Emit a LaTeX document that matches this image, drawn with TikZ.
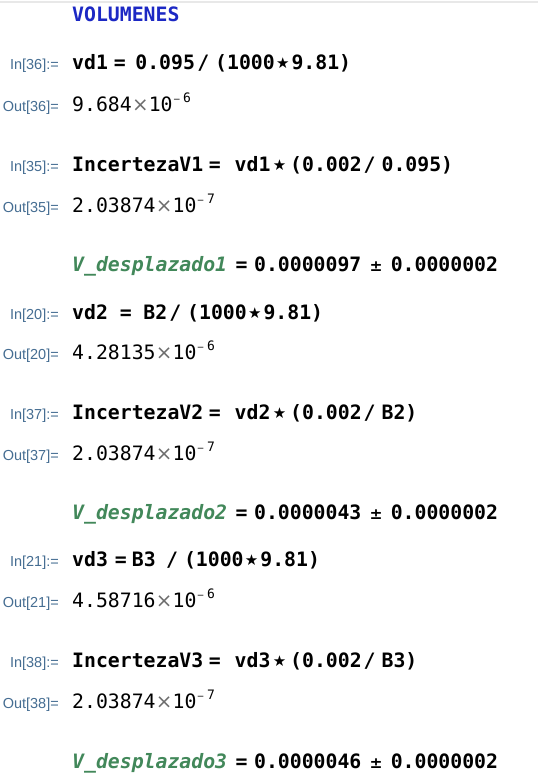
\documentclass[tikz,border=0pt]{standalone}
\usepackage{fontspec}
\setmonofont{DejaVu Sans Mono}
\setsansfont{Liberation Sans}
\newfontfamily\symf{DejaVu Sans}
\usetikzlibrary{positioning}

\definecolor{lblblue}{RGB}{69,109,146}
\definecolor{titleblue}{RGB}{28,40,196}
\definecolor{vargreen}{RGB}{66,136,90}
\definecolor{timesgray}{RGB}{110,110,110}
\definecolor{rulegray}{RGB}{232,232,232}

\newcommand\opeq[2]{\kern#1pt=\kern#2pt}
\newcommand\opslash[1]{\kern#1pt/\kern6pt}
\newcommand\opstar[1][2]{\kern#1pt\makebox[12pt]{\raisebox{1pt}{\symf\fontsize{15}{15}\selectfont ★}}\kern2.7pt}
\newcommand\optimes{\makebox[17pt]{\symf\color{timesgray}×}}
\newcommand\opexp[1]{\raisebox{8.7pt}{\fontsize{13}{13}\selectfont\kern0.5pt{\symf\fontsize{9}{9}\selectfont −}\kern2.5pt#1}}
\newcommand\oppm{\makebox[29.4pt]{\symf\bfseries\fontsize{15.5}{15}\selectfont ±}}
\newcommand\vname[1]{{\itshape\color{vargreen}#1}}

\begin{document}
\begin{tikzpicture}[x=1pt,y=-1pt]
      \useasboundingbox (0,0) rectangle (538,781);
      \fill[white] (0,0) rectangle (538,781);
      \draw[rulegray, line width=2pt] (0,2) -- (538,2);
      \begin{scope}[every node/.style={anchor=base east,inner sep=0pt,text=lblblue,
          font=\sffamily\fontsize{14.5}{16}\selectfont}]
        \node (in36) at (59,69.5) {In[36]:=};
        \node (out36) at (59,111) {Out[36]=};
        \node (in35) at (59,171) {In[35]:=};
        \node (out35) at (59,212) {Out[35]=};
        \node (in20) at (59,319) {In[20]:=};
        \node (out20) at (59,359.5) {Out[20]=};
        \node (in37) at (59,419) {In[37]:=};
        \node (out37) at (59,460.5) {Out[37]=};
        \node (in21) at (59,566) {In[21]:=};
        \node (out21) at (59,607) {Out[21]=};
        \node (in38) at (59,667) {In[38]:=};
        \node (out38) at (59,708) {Out[38]=};
      \end{scope}
      \begin{scope}[every node/.style={anchor=base west,inner sep=0pt,
          font=\ttfamily\bfseries\fontsize{19.8}{24}\selectfont}]
        \node (title)[titleblue] at (72,21.7) {VOLUMENES};
        \node (vd1) at (72,69.5) {vd1\opeq{6}{9.5}0.095\opslash{2.3}(1000\opstar9.81)};
        \node (inc1) at (72,171) {IncertezaV1\opeq{5.5}{14}vd1\opstar[3]\kern2pt(0.002\opslash{2}0.095)};
        \node (res1) at (72,271) {\vname{V\_desplazado1}\opeq{8.5}{6.5}0.0000097\oppm 0.0000002};
        \node (vd2) at (72,319) {vd2\opeq{12}{11.5}B2\opslash{2.1}(1000\opstar9.81)};
        \node (inc2) at (72,419) {IncertezaV2\opeq{5.5}{14}vd2\opstar[3]\kern2pt(0.002\opslash{2}B2)};
        \node (res2) at (72,519) {\vname{V\_desplazado2}\opeq{8.5}{6.5}0.0000043\oppm 0.0000002};
        \node (vd3) at (72,566) {vd3\opeq{7}{5}B3\opslash{10.4}(1000\opstar9.81)};
        \node (inc3) at (72,667) {IncertezaV3\opeq{5.5}{14}vd3\opstar[3]\kern2pt(0.002\opslash{2}B3)};
        \node (res3) at (72,768) {\vname{V\_desplazado3}\opeq{8.5}{6.5}0.0000046\oppm 0.0000002};
      \end{scope}
      \begin{scope}[every node/.style={anchor=base west,inner sep=0pt,
          font=\ttfamily\fontsize{19.8}{24}\selectfont}]
        \node (val36) at (72,111) {9.684\optimes10\opexp{6}};
        \node (val35) at (72,212) {2.03874\optimes10\opexp{7}};
        \node (val20) at (72,359.5) {4.28135\optimes10\opexp{6}};
        \node (val37) at (72,460.5) {2.03874\optimes10\opexp{7}};
        \node (val21) at (72,607) {4.58716\optimes10\opexp{6}};
        \node (val38) at (72,708) {2.03874\optimes10\opexp{7}};
      \end{scope}
    \end{tikzpicture}
\end{document}
